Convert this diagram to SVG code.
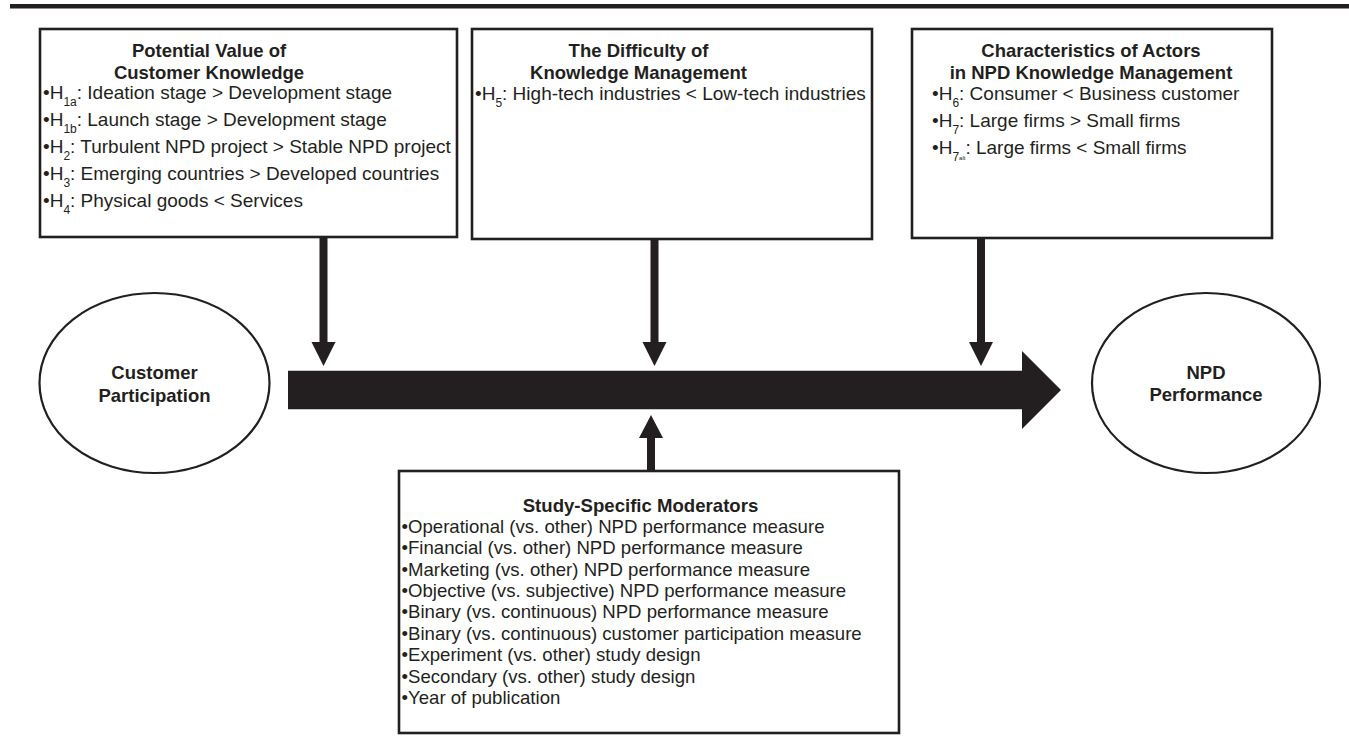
<svg xmlns="http://www.w3.org/2000/svg" width="1349" height="749" viewBox="0 0 1349 749">
<defs>
<style>
.box{fill:#fff;stroke:#231f20;stroke-width:2.6}
.ell{fill:#fff;stroke:#231f20;stroke-width:2.2}
.t{font-family:"Liberation Sans",Arial,Helvetica,sans-serif;fill:#231f20}
.title{font-size:18.5px;font-weight:bold;text-anchor:middle}
.body{font-size:19px}
.body4{font-size:18.6px}
.sub{font-size:12px}
.tiny{font-size:6px}
.lbl{font-size:18.5px;font-weight:bold;text-anchor:middle}
.ink{fill:#231f20}
</style>
</defs>
<rect x="0" y="0" width="1349" height="749" fill="#fff"/>
<rect class="ink" x="10" y="4" width="1339" height="4.5"/>

<g id="connectors">
  <path class="ink" d="M288,370.7 L1022,370.7 L1022,351 L1061,390 L1022,429 L1022,409.3 L288,409.3 Z"/>
  <path class="ink" d="M319.5,237 L327.5,237 L327.5,342 L335.5,342 L323.5,366 L311.5,342 L319.5,342 Z"/>
  <path class="ink" d="M650.5,240 L658.5,240 L658.5,342 L666.5,342 L654.5,366 L642.5,342 L650.5,342 Z"/>
  <path class="ink" d="M977,238 L985,238 L985,342 L993,342 L981,366 L969,342 L977,342 Z"/>
  <path class="ink" d="M647,471 L655,471 L655,438 L663,438 L651,415 L639,438 L647,438 Z"/>
</g>

<g id="node-potential-value">
  <rect class="box" x="40" y="29" width="417" height="208"/>
  <text class="t title" x="209" y="57">Potential Value of</text>
  <text class="t title" x="209" y="78.5">Customer Knowledge</text>
  <text class="t body" x="43" y="98.5">•H<tspan class="sub" dy="7">1a</tspan><tspan dy="-7">: Ideation stage &gt; Development stage</tspan></text>
  <text class="t body" x="43" y="125.5">•H<tspan class="sub" dy="7">1b</tspan><tspan dy="-7">: Launch stage &gt; Development stage</tspan></text>
  <text class="t body" x="43" y="152.5">•H<tspan class="sub" dy="7">2</tspan><tspan dy="-7">: Turbulent NPD project &gt; Stable NPD project</tspan></text>
  <text class="t body" x="43" y="179.5">•H<tspan class="sub" dy="7">3</tspan><tspan dy="-7">: Emerging countries &gt; Developed countries</tspan></text>
  <text class="t body" x="43" y="206.5">•H<tspan class="sub" dy="7">4</tspan><tspan dy="-7">: Physical goods &lt; Services</tspan></text>
</g>

<g id="node-difficulty">
  <rect class="box" x="472" y="29" width="400" height="210"/>
  <text class="t title" x="638.5" y="57">The Difficulty of</text>
  <text class="t title" x="638.5" y="78.5">Knowledge Management</text>
  <text class="t body" x="475" y="100">•H<tspan class="sub" dy="7">5</tspan><tspan dy="-7">: High-tech industries &lt; Low-tech industries</tspan></text>
</g>

<g id="node-actors">
  <rect class="box" x="912" y="29" width="360" height="209"/>
  <text class="t title" x="1091" y="57">Characteristics of Actors</text>
  <text class="t title" x="1091" y="78.5">in NPD Knowledge Management</text>
  <text class="t body" x="932" y="100">•H<tspan class="sub" dy="7">6</tspan><tspan dy="-7">: Consumer &lt; Business customer</tspan></text>
  <text class="t body" x="932" y="127">•H<tspan class="sub" dy="7">7</tspan><tspan dy="-7">: Large firms &gt; Small firms</tspan></text>
  <text class="t body" x="932" y="154">•H<tspan class="sub" dy="7">7</tspan><tspan class="tiny" dy="-1">alt</tspan><tspan dy="-6">: Large firms &lt; Small firms</tspan></text>
</g>

<g id="node-customer-participation">
  <ellipse class="ell" cx="154.5" cy="383" rx="115" ry="90"/>
  <text class="t lbl" x="154.5" y="379">Customer</text>
  <text class="t lbl" x="154.5" y="401.5">Participation</text>
</g>

<g id="node-npd-performance">
  <ellipse class="ell" cx="1206" cy="383" rx="114" ry="90"/>
  <text class="t lbl" x="1206" y="379">NPD</text>
  <text class="t lbl" x="1206" y="401">Performance</text>
</g>

<g id="node-study-moderators">
  <rect class="box" x="399" y="471" width="500" height="262"/>
  <text class="t title" x="640.5" y="511.5" style="font-size:18.6px">Study-Specific Moderators</text>
  <text class="t body4" x="401.5" y="532.7">•Operational (vs. other) NPD performance measure</text>
  <text class="t body4" x="401.5" y="554.1">•Financial (vs. other) NPD performance measure</text>
  <text class="t body4" x="401.5" y="575.5">•Marketing (vs. other) NPD performance measure</text>
  <text class="t body4" x="401.5" y="596.9">•Objective (vs. subjective) NPD performance measure</text>
  <text class="t body4" x="401.5" y="618.3">•Binary (vs. continuous) NPD performance measure</text>
  <text class="t body4" x="401.5" y="639.7">•Binary (vs. continuous) customer participation measure</text>
  <text class="t body4" x="401.5" y="661.1">•Experiment (vs. other) study design</text>
  <text class="t body4" x="401.5" y="682.5">•Secondary (vs. other) study design</text>
  <text class="t body4" x="401.5" y="703.9">•Year of publication</text>
</g>
</svg>
